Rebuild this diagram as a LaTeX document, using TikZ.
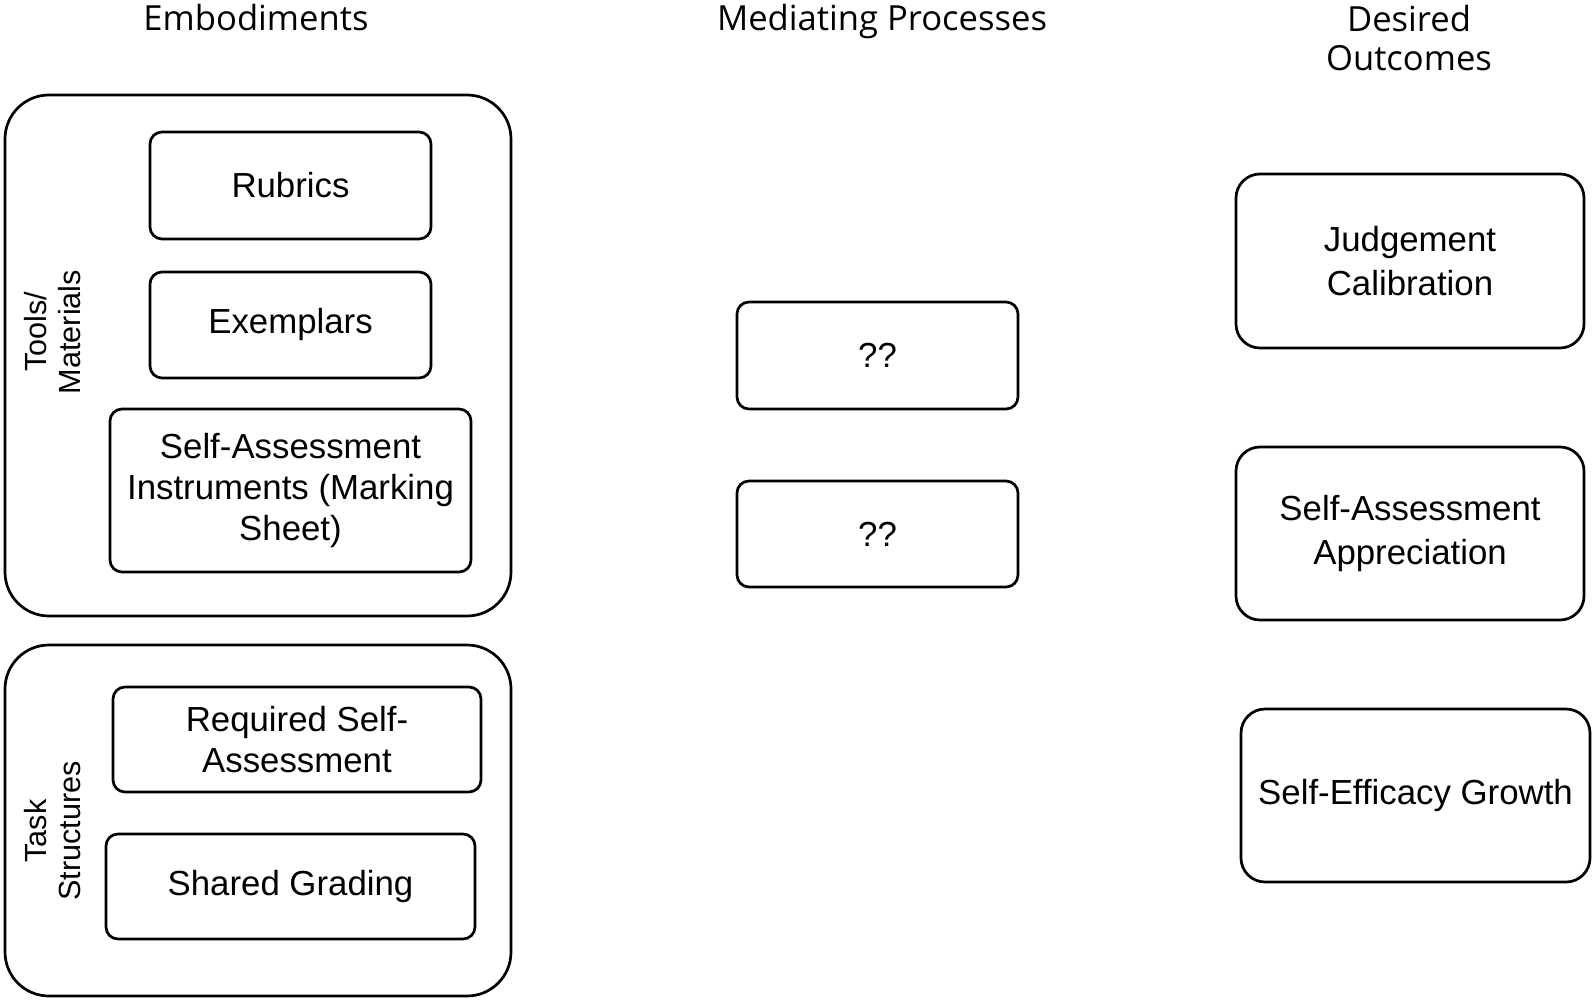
\documentclass[tikz,border=0pt]{standalone}
\usepackage{fontspec}
\setmainfont{Liberation Sans}
\newfontfamily\headfont{Open Sans}
\begin{document}
\begin{tikzpicture}[x=0.5pt,y=-0.5pt,
  box/.style={draw=black, line width=1.35pt, rounded corners=6pt, align=center, inner sep=0pt,
    font=\fontsize{17.4pt}{20.3pt}\selectfont},
  outbox/.style={box, rounded corners=12pt, font=\fontsize{17.4pt}{22pt}\selectfont},
  group/.style={draw=black, line width=1.35pt, rounded corners=22pt, inner sep=0pt},
  head/.style={align=center, inner sep=0pt, font=\headfont\fontsize{17.3pt}{19.5pt}\selectfont},
  side/.style={align=center, inner sep=0pt, rotate=90, font=\fontsize{15.3pt}{17pt}\selectfont}]
\useasboundingbox (0,0) rectangle (1595,1000);
% headers
\node[head, anchor=base] (h1) at (256,31) {Embodiments};
\node[head, anchor=base] (h2) at (882,31) {Mediating Processes};
\node[head] (h3) at (1409,38) {Desired\\Outcomes};
% groups
\node[group, minimum width=253pt, minimum height=260.5pt] (g1) at (258,355.5) {};
\node[group, minimum width=253pt, minimum height=175.5pt] (g2) at (258,820.5) {};
\node[side] (l1) at (53,332) {Tools/\\Materials};
\node[side] (l2) at (53,831) {Task\\Structures};
% embodiments
\node[box, minimum width=140.5pt, minimum height=53.5pt] (rub) at (290.5,185.5) {Rubrics};
\node[box, minimum width=140.5pt, minimum height=53pt] (exe) at (290.5,325) {Exemplars};
\node[box, minimum width=180.5pt, minimum height=81.5pt] (sai) at (290.5,490.5) {Self-Assessment\\Instruments (Marking\\Sheet)};
\node[box, minimum width=184pt, minimum height=52.5pt] (rsa) at (297,739.5) {Required Self-\\Assessment};
\node[box, minimum width=184.5pt, minimum height=52.5pt] (sg) at (290.5,886.5) {Shared Grading};
% mediating
\node[box, minimum width=140.5pt, minimum height=53.5pt] (q1) at (877.5,355.5) {??};
\node[box, minimum width=140.5pt, minimum height=53pt] (q2) at (877.5,534) {??};
% outcomes
\node[outbox, minimum width=174pt, minimum height=87pt] (jc) at (1410,261) {Judgement\\Calibration};
\node[outbox, minimum width=174pt, minimum height=86.5pt] (saa) at (1410,533.5) {Self-Assessment\\Appreciation};
\node[outbox, minimum width=174.5pt, minimum height=86.5pt] (seg) at (1415.5,795.5) {Self-Efficacy Growth};
\end{tikzpicture}
\end{document}
